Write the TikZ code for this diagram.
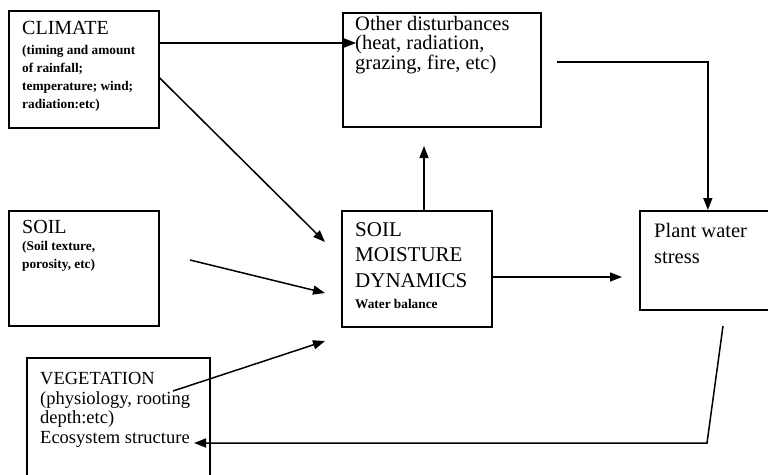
\documentclass[tikz,border=0pt]{standalone}
\usepackage{fontspec}
\setmainfont{Liberation Serif}
\usetikzlibrary{arrows.meta}

\begin{document}
\begin{tikzpicture}[
  x=1pt, y=1pt,
  box/.style={draw=black, line width=1.7pt, anchor=north west, inner sep=0pt},
  head/.style={anchor=north west, inner sep=0pt, align=left},
  note/.style={anchor=north west, inner sep=0pt, align=left,
               font=\fontsize{13.3}{18}\selectfont\bfseries},
  feed/.style={-{Triangle[length=12pt, width=9pt]}, line width=1.5pt},
]
\clip (0,0) rectangle (768,-474);
\fill[white] (0,0) rectangle (768,-474);

% ---------------- boxes --------------------------------------------
\node[box, minimum width=150pt, minimum height=117pt] (clim)  at (8,-10)   {};
\node[box, minimum width=198pt, minimum height=114pt] (oth)   at (342,-12) {};
\node[box, minimum width=150pt, minimum height=115pt] (soil)  at (8,-210)  {};
\node[box, minimum width=150pt, minimum height=116pt] (sm)    at (341,-210) {};
\node[box, minimum width=136pt, minimum height=99pt]  (plant) at (639,-210) {};
\node[box, minimum width=183pt, minimum height=140pt] (veg)   at (26,-357)  {};

% ---------------- texts --------------------------------------------
\node[head, font=\fontsize{20}{20}\selectfont] (climhead)
  at ([shift={(14,-11)}]clim.north west) {CLIMATE};
\node[note] (climbody) at ([shift={(14,-35)}]clim.north west)
  {(timing and amount\\of rainfall;\\temperature; wind;\\radiation:etc)};

\node[head, font=\fontsize{20.5}{19.5}\selectfont] (othbody)
  at ([shift={(13,-4)}]oth.north west)
  {Other disturbances\\(heat, radiation,\\grazing, fire, etc)};

\node[head, font=\fontsize{20}{20}\selectfont] (soilhead)
  at ([shift={(14,-10)}]soil.north west) {SOIL};
\node[note] (soilbody) at ([shift={(14,-31)}]soil.north west)
  {(Soil texture,\\porosity, etc)};

\node[head, font=\fontsize{21}{25.5}\selectfont] (smhead)
  at ([shift={(14,-12)}]sm.north west) {SOIL\\MOISTURE\\DYNAMICS};
\node[note] (smbody) at ([shift={(14,-89)}]sm.north west) {Water balance};

\node[head, font=\fontsize{20.5}{26}\selectfont] (plantbody)
  at ([shift={(15,-13)}]plant.north west) {Plant water\\stress};

\node[head, font=\fontsize{18.5}{19.7}\selectfont] (vegbody)
  at ([shift={(14,-15)}]veg.north west)
  {VEGETATION\\(physiology, rooting\\depth:etc)\\Ecosystem structure};

% ---------------- free ends ----------------------------------------
\coordinate (othin)    at (356,-43);
\coordinate (smin1)    at (325,-242);
\coordinate (soilout)  at (190,-260);
\coordinate (smin2)    at (325,-293);
\coordinate (vegout)   at (173,-391);
\coordinate (smin3)    at (325,-341);
\coordinate (othup)    at (424,-146);
\coordinate (othout)   at (557,-62);
\coordinate (plantin)  at (622,-277);
\coordinate (plantout) at (723,-326);
\coordinate (bend)     at (707,-443);
\coordinate (vegin)    at (194,-443);

% ---------------- links --------------------------------------------
\draw[feed] (clim.east |- othin) -- (othin);
\draw[feed] ([yshift=-68]clim.north east) -- (smin1);
\draw[feed] (soilout) -- (smin2);
\draw[feed] (vegout) -- (smin3);
\draw[feed] (sm.north -| othup) -- (othup);
\draw[feed] (othout) -| (plant.north);
\draw[feed] (sm.east |- plantin) -- (plantin);
\draw[feed] (plantout) -- (bend) -- (vegin);

\end{tikzpicture}
\end{document}
